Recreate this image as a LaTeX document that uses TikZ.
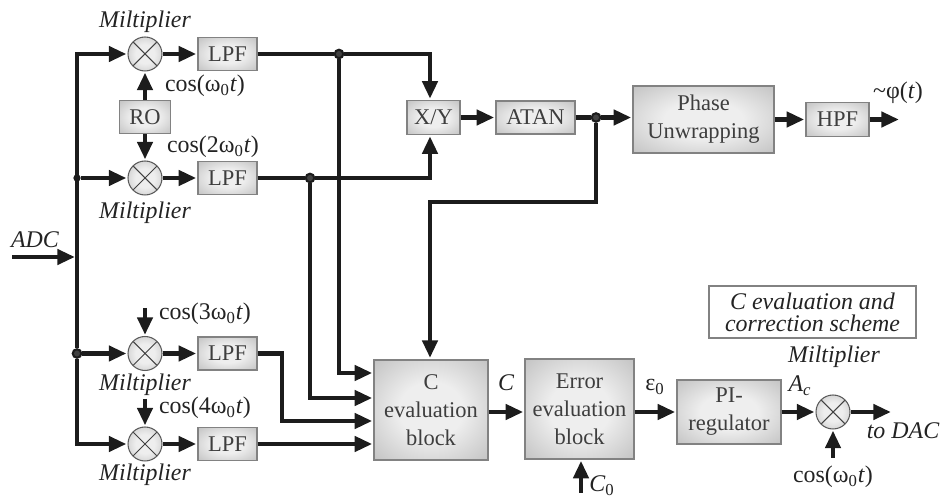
\documentclass[tikz,border=0pt]{standalone}
\usepackage{fontspec}
\setmainfont{Liberation Serif}
\usetikzlibrary{arrows.meta,positioning,shapes.geometric}
\definecolor{wireblack}{RGB}{28,28,28}
\definecolor{blockedge}{RGB}{130,130,130}
\definecolor{blockgray}{RGB}{182,182,182}
\definecolor{blocklight}{RGB}{238,238,238}
\definecolor{labelink}{RGB}{35,35,35}
\definecolor{blockink}{RGB}{62,62,62}
\pgfdeclareradialshading{blockshade}{\pgfpointorigin}{color(0bp)=(blocklight); color(14bp)=(blocklight);
  color(42bp)=(blockgray); color(50bp)=(blockgray)}
\newcommand{\cosw}[1]{cos(#1ω\textsubscript{0}\textit{t})}

\begin{document}
\begin{tikzpicture}[x=0.02cm,y=-0.02cm,
  block/.style={draw=blockedge,line width=0.8pt,shading=blockshade,
                rectangle,inner sep=0pt,align=center,text=blockink,
                font=\fontsize{12.8}{16}\selectfont},
  mixer/.style={draw=blockedge!70!black,line width=0.6pt,circle,minimum size=0.68cm,inner sep=0pt,
                shading=blockshade,
                path picture={\draw[blockedge!50!black,line width=0.6pt]
                  (path picture bounding box.north west) -- (path picture bounding box.south east)
                  (path picture bounding box.north east) -- (path picture bounding box.south west);}},
  wire/.style={line width=2.5pt,draw=wireblack},
  arr/.style={wire,-{Triangle[length=10pt,width=8.5pt]},shorten >=0.6pt},
  joint/.style={circle,draw=wireblack,fill=blockedge!50!black,line width=1.2pt,minimum size=0.17cm,inner sep=0pt},
  lbl/.style={inner sep=0pt,text=labelink,font=\fontsize{13.6}{16}\selectfont},
  tag/.style={lbl,font=\fontsize{13.6}{16}\selectfont\itshape}
]
  \useasboundingbox (0,0) rectangle (940,499);

  % Upper branch
  \node[mixer] (mula) at (145,54) {};
  \node[mixer] (mulb) at (145,178) {};
  \node[block,minimum width=1.18cm,minimum height=0.66cm] (lpfa) at (227.5,54) {LPF};
  \node[block,minimum width=1.18cm,minimum height=0.66cm] (lpfb) at (227.5,178) {LPF};
  \node[block,minimum width=1.02cm,minimum height=0.66cm] (ro) at (145,117) {RO};
  \node[block,minimum width=1.06cm,minimum height=0.68cm] (xy) at (433.5,117.5) {X/Y};
  \node[block,minimum width=1.58cm,minimum height=0.66cm] (atan) at (535.5,117.5) {ATAN};
  \node[block,minimum width=2.82cm,minimum height=1.34cm] (phase) at (703.5,119.5) {Phase\\Unwrapping};
  \node[block,minimum width=1.26cm,minimum height=0.68cm] (hpf) at (837.5,119.5) {HPF};

  % Lower branch
  \node[mixer] (mulc) at (145,353.5) {};
  \node[mixer] (muld) at (145,444) {};
  \node[block,minimum width=1.18cm,minimum height=0.66cm] (lpfc) at (227.5,353.5) {LPF};
  \node[block,minimum width=1.18cm,minimum height=0.66cm] (lpfd) at (227.5,444) {LPF};
  \node[block,minimum width=2.28cm,minimum height=2cm] (ceval) at (431,410) {C\\evaluation\\block};
  \node[block,minimum width=2.18cm,minimum height=2cm] (eeval) at (579.5,409) {Error\\evaluation\\block};
  \node[block,minimum width=2.08cm,minimum height=1.28cm] (pireg) at (729,412) {PI-\\regulator};
  \node[mixer] (mule) at (833,412) {};
  \node[draw=blockedge,line width=0.8pt,minimum width=4.14cm,minimum height=1.04cm,inner sep=0pt,
        align=center,text=labelink,font=\fontsize{13.6}{12.5}\selectfont\itshape] (note) at (812.5,312)
        {C evaluation and\\correction scheme};

  % Junctions
  \node[joint,minimum size=0.1cm] (joinb) at (77,178) {};
  \node[joint] (joinc) at (77,353.5) {};
  \node[joint] (jointop) at (339,54) {};
  \node[joint] (joinlow) at (310,178) {};
  \node[joint] (joinatan) at (596,117.5) {};

  % Free ends and bends
  \coordinate (adcin) at (12,257);
  \coordinate (adcbus) at (76,257);
  \coordinate (cthree) at (145,308);
  \coordinate (cfour) at (145,399);
  \coordinate (phiout) at (900,119.5);
  \coordinate (dacout) at (892,412);
  \coordinate (czero) at (581,493);
  \coordinate (cosin) at (833,458);
  \coordinate (fbturn) at (430,202);
  \coordinate (fbin) at (430,359);
  \coordinate (bendtop) at (339,373);
  \coordinate (bendlow) at (310,398);
  \coordinate (bendc) at (282,421);
  \coordinate (cline) at (480,412);
  \coordinate (eline) at (620,412);

  % Left bus
  \draw[arr] (adcin) -- (adcbus);
  \draw[arr] (joinc) |- (mula);
  \draw[arr] (joinc) |- (muld);
  \draw[arr] (joinb) -- (mulb);
  \draw[arr] (joinc) -- (mulc);

  % Multipliers to filters
  \draw[arr] (mula) -- (lpfa);
  \draw[arr] (mulb) -- (lpfb);
  \draw[arr] (mulc) -- (lpfc);
  \draw[arr] (muld) -- (lpfd);
  \draw[arr] (ro) -- (mula);
  \draw[arr] (ro) -- (mulb);
  \draw[arr] (cthree) -- (mulc);
  \draw[arr] (cfour) -- (muld);

  % Filters to X/Y and evaluation block
  \draw[wire] (lpfa) -- (jointop);
  \draw[wire] (lpfb) -- (joinlow);
  \draw[arr] (jointop) -| (xy.north -| fbturn);
  \draw[arr] (joinlow) -| (xy.south -| fbturn);
  \draw[arr] (jointop) |- (bendtop -| ceval.west);
  \draw[arr] (joinlow) |- (bendlow -| ceval.west);
  \draw[arr] (lpfc) -| (bendc) -- (bendc -| ceval.west);
  \draw[arr] (lpfd) -- (lpfd -| ceval.west);

  % Phase path
  \draw[arr] (xy) -- (atan);
  \draw[wire] (atan) -- (joinatan);
  \draw[arr] (joinatan) -- (joinatan -| phase.west);
  \draw[arr] (phase) -- (hpf);
  \draw[arr] (hpf) -- (phiout);
  \draw[arr] (joinatan) |- (fbturn) -- (fbin);

  % Correction path
  \draw[arr] (cline -| ceval.east) -- (cline -| eeval.west);
  \draw[arr] (eline -| eeval.east) -- (eline -| pireg.west);
  \draw[arr] (pireg) -- (mule);
  \draw[arr] (mule) -- (dacout);
  \draw[arr] (czero) -- (czero |- eeval.south);
  \draw[arr] (cosin) -- (mule);

  % Labels
  \node[tag] (taga) at (145,22) {Miltiplier};
  \node[tag] (tagb) at (145,213) {Miltiplier};
  \node[tag] (tagc) at (145,385) {Miltiplier};
  \node[tag] (tagd) at (145,475) {Miltiplier};
  \node[tag] (tage) at (834,357) {Miltiplier};
  \node[tag] (adc) at (35,240) {ADC};
  \node[tag] (todac) at (903,431) {to DAC};
  \node[tag] (ac) at (800,386) {A\textsubscript{c}};
  \node[tag] (clabel) at (506,383) {C};
  \node[tag] (czerolabel) at (602,486) {C\textsubscript{\upshape 0}};
  \node[lbl] (eps) at (655,387) {ε\textsubscript{0}};
  \node[lbl] (phi) at (898,93) {\textasciitilde φ(\textit{t})};
  \node[lbl] (cosa) at (205,86) {\cosw{}};
  \node[lbl] (cosb) at (213,147) {\cosw{2}};
  \node[lbl] (cosc) at (205,314) {\cosw{3}};
  \node[lbl] (cosd) at (205,408) {\cosw{4}};
  \node[lbl] (cose) at (833,477) {\cosw{}};
\end{tikzpicture}
\end{document}
